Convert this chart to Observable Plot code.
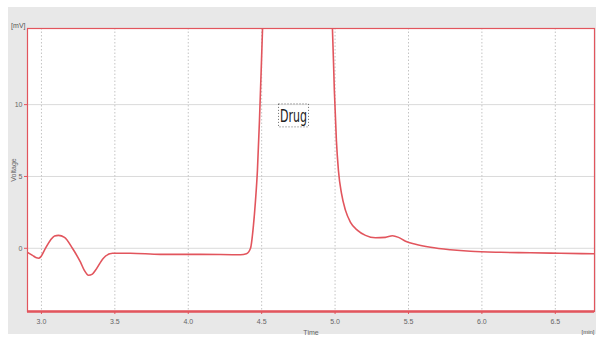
<!DOCTYPE html>
<html>
<head>
<meta charset="utf-8">
<script src="https://cdn.jsdelivr.net/npm/d3@7"></script>
<script src="https://cdn.jsdelivr.net/npm/@observablehq/plot@0.6"></script>
<style>
  html, body { margin: 0; padding: 0; background: #ffffff; }
  #wrap { position: relative; width: 596px; height: 338px; overflow: hidden; }
  #bg { position: absolute; left: 8px; top: 7px; width: 588px; height: 327px; background: #e8e8e8; }
  #chart { position: absolute; left: 0; top: 0; }
</style>
</head>
<body>
<div id="wrap"><div id="bg"></div><div id="chart"></div></div>
<script>
const time = [2.905, 2.939, 2.966, 2.980, 2.995, 3.020, 3.061, 3.089, 3.116, 3.157, 3.211, 3.266, 3.293, 3.320, 3.347, 3.368, 3.422, 3.484, 3.606, 3.810, 4.083, 4.356, 4.396, 4.424, 4.444, 4.458, 4.471, 4.485, 4.499, 4.512, 4.600, 4.800, 4.969, 4.982, 4.995, 5.009, 5.023, 5.044, 5.071, 5.105, 5.153, 5.207, 5.275, 5.343, 5.391, 5.432, 5.480, 5.548, 5.650, 5.786, 5.922, 6.127, 6.331, 6.535, 6.767];
const voltage = [-0.28, -0.49, -0.66, -0.69, -0.60, -0.14, 0.56, 0.86, 0.90, 0.76, 0.00, -0.97, -1.55, -1.88, -1.80, -1.53, -0.69, -0.35, -0.35, -0.42, -0.42, -0.45, -0.38, 0.00, 1.60, 3.33, 5.40, 8.90, 13.1, 17.2, 30, 30, 17.0, 15.3, 11.0, 7.5, 5.4, 3.8, 2.64, 1.81, 1.25, 0.90, 0.73, 0.76, 0.87, 0.76, 0.49, 0.28, 0.07, -0.10, -0.21, -0.28, -0.31, -0.35, -0.38];
const xTicks = [3.0, 3.5, 4.0, 4.5, 5.0, 5.5, 6.0, 6.5];
const yTicks = [0, 5, 10];
const annotLabel = ["Drug"];
const annotTime = [4.717];
const annotValue = [9.2];

const data = time.map((t, i) => ({time: t, voltage: voltage[i]}));
const annots = annotLabel.map((l, i) => ({label: l, time: annotTime[i], value: annotValue[i]}));

const red = "#e2555d";
const plot = Plot.plot({
  width: 596,
  height: 338,
  marginLeft: 27,
  marginTop: 28,
  marginRight: 2,
  marginBottom: 27,
  style: {background: "transparent", fontFamily: "'Liberation Sans', Arial, sans-serif", fontSize: "7px", color: "#555"},
  x: {domain: [2.905, 6.767]},
  y: {domain: [-4.4, 15.3]},
  marks: [
    Plot.frame({fill: "white", stroke: "none"}),
    Plot.gridY(yTicks, {stroke: "#dadada", strokeOpacity: 1}),
    Plot.gridX(xTicks, {stroke: "#c4c4c4", strokeOpacity: 1, strokeDasharray: "1.5,2"}),
    Plot.axisX(xTicks, {tickFormat: d3.format(".1f"), tickSize: 3, stroke: red, fill: "#666", tickPadding: 5,
      label: "Time", labelAnchor: "center", labelArrow: "none", labelOffset: 23}),
    Plot.axisY(yTicks, {tickSize: 3, stroke: red, fill: "#666", tickPadding: 2,
      label: "Voltage", labelAnchor: "center", labelArrow: "none", labelOffset: 16}),
    Plot.text(["[mV]"], {frameAnchor: "top-left", dx: -2, dy: -5, textAnchor: "end", fill: "#555", fontSize: 7}),
    Plot.text(["[min]"], {frameAnchor: "bottom-right", dx: 0, dy: 22, textAnchor: "end", fill: "#555", fontSize: 6}),
    Plot.line(data, {x: "time", y: "voltage", stroke: red, strokeWidth: 1.6, curve: "monotone-x", clip: true}),
    Plot.frame({stroke: red, strokeWidth: 1.2}),
    Plot.ruleY([-4.4], {stroke: red, strokeWidth: 2.5}),
    Plot.text(annots, {x: "time", y: "value", text: "label", fontSize: 18, fill: "#222",
      fontFamily: "'DejaVu Sans', sans-serif", className: "annot"})
  ]
});
document.getElementById("chart").appendChild(plot);

// condense the annotation text and draw a dotted selection box around it
const svg = d3.select(plot);
svg.selectAll(".annot text").each(function() {
  d3.select(this).attr("textLength", 27).attr("lengthAdjust", "spacingAndGlyphs");
  const b = this.getBBox();
  const ctm = this.transform.baseVal.consolidate();
  let tx = 0, ty = 0;
  if (ctm) { tx = ctm.matrix.e; ty = ctm.matrix.f; }
  const g = d3.select(this.parentNode);
  g.append("rect")
    .attr("x", b.x + tx - 1.5).attr("y", b.y + ty - 1)
    .attr("width", b.width + 3).attr("height", b.height + 2)
    .attr("fill", "none").attr("stroke", "#444").attr("stroke-width", 0.8)
    .attr("stroke-dasharray", "1,2");
});
</script>
</body>
</html>
